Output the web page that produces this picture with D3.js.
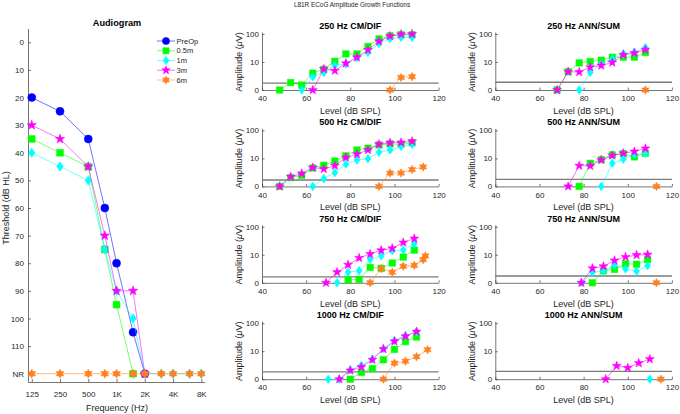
<!DOCTYPE html>
<html><head><meta charset="utf-8">
<script src="https://cdn.jsdelivr.net/npm/d3@7"></script>
<style>
body{margin:0;background:#fff}
svg{display:block}
text{font-family:"Liberation Sans",Arial,Helvetica,sans-serif}
</style>
</head><body>
<svg id="c" width="680" height="414"></svg>
<script>
// ---------------- DATA ----------------
const seriesNames  = ["PreOp","0.5m","1m","3m","6m"];
const seriesColors = ["#0000ff","#00ff00","#00ffff","#ff00ff","#ff8020"];

// Audiogram (threshold dB HL, 120 = NR)
const audFreqs  = [125,250,500,750,1000,1500,2000,3000,4000,6000,8000];
const audPreOp  = [20,25,35,60,80,105,120,null,null,null,null];
const aud05m    = [35,40,45,75,95,120,null,null,null,null,null];
const aud1m     = [40,45,50,75,90,100,120,120,120,120,120];
const aud3m     = [30,35,45,70,90,90,120,null,null,null,null];
const aud6m     = [120,120,120,120,120,120,120,120,120,120,120];
const audYTicks = [0,10,20,30,40,50,60,70,80,90,100,110,120];
const audXTicks = [125,250,500,1000,2000,4000,8000];
const audXLabels = ["125","250","500","1K","2K","4K","8K"];

// ECoG amplitude growth functions (µV; 0 = at floor)
const lev250cm = [48,53,58,63,68,73,78,83,88,93,98,103,108];
const cm250_05 = [0,1.85,1.5,4.0,5.5,10.6,19.4,19.4,36,67,86,95,94];
const cm250_1  = [null,null,0,3.0,4.2,7.6,8.6,14,22,45,68,76,76];
const cm250_3  = [null,null,null,0,5.6,4.9,9,14.7,27,55,84,98,100];
const cm250_6  = [null,null,null,null,null,null,null,null,null,null,0,2.8,3.0];

const lev250ann = [68,73,78,83,88,93,98,103,108];
const ann250_05 = [0,4.5,9.3,10.4,11.6,14.9,14.9,14.9,21.7];
const ann250_1  = [null,null,0,4.2,8.5,12.7,19.6,22.6,33];
const ann250_3  = [0,4.5,4.4,6.5,7.5,9.6,18.1,20.8,27.5];
const ann250_6  = [null,null,null,null,null,null,null,null,0];

const lev500cm = [48,53,58,63,68,73,78,83,88,93,98,103,108,113];
const cm500_05 = [0,2.05,2.5,4.55,5.7,8.1,12.3,20,23.2,30.4,33,32,36,null];
const cm500_1  = [null,null,null,0,1.89,3.1,6.2,8.8,9.8,16.6,20,26.6,31.3,null];
const cm500_3  = [0,2.2,2.9,4.7,4.2,5.5,10.7,14.1,20,32,36,37,41,null];
const cm500_6  = [null,null,null,null,null,null,null,null,null,0,3.0,3.0,4.0,4.95];

const lev500ann = [73,78,83,88,93,98,103,108,113];
const ann500_05 = [null,0,6.7,9.1,13.4,14.9,11.3,15.3,null];
const ann500_1  = [null,null,null,0,6.7,9.3,13.4,15.3,null];
const ann500_3  = [0,5.5,5.4,8.8,12.7,15.3,17.6,22.6,null];
const ann500_6  = [null,null,null,null,null,null,null,null,0];

const lev750cm = [69,74,79,84,89,94,99,104,109,113,114];
const cm750_05 = [null,null,1.28,1.32,3.55,3.3,5.1,8.3,14.7,null,null];
const cm750_1  = [null,0,2.4,2.7,6.9,9.1,14.1,14.9,24.6,null,null];
const cm750_3  = [0,2.4,4.4,7.7,10.7,14.5,17.1,27.5,38,null,null];
const cm750_6  = [null,null,null,null,0,3.2,2.4,3.9,4.2,6.7,9.1];

const lev750ann = [79,84,89,94,99,104,109,113];
const ann750_05 = [null,0,2.7,3.0,4.8,4.6,6.7,null];
const ann750_1  = [0,2.37,2.6,4.2,3.1,2.6,4.1,null];
const ann750_3  = [0,3.3,3.9,6.3,8.4,9.8,10.2,null];
const ann750_6  = [null,null,null,null,null,null,null,0];

const lev1000cm = [70,75,80,85,90,95,100,105,110,115];
const cm1000_05 = [null,null,0,1.74,2.4,4.95,11.6,22,32,null];
const cm1000_1  = [0,0,2.17,3.1,5.2,12.3,23.8,36,50,null];
const cm1000_3  = [null,0,2.05,2.7,4.95,11.9,22.6,34,50,null];
const cm1000_6  = [null,null,null,null,null,0,3.76,4.4,6.35,11.3];

const lev1000ann = [90,95,100,105,110,115];
const ann1000_05 = [null,null,null,null,null,null];
const ann1000_1  = [null,null,null,null,0,null];
const ann1000_3  = [0,3.0,2.55,3.76,5.2,null];
const ann1000_6  = [null,null,null,null,null,0];

const noiseFloors = [1.76,1.89,1.69,1.79,1.64,1.75,1.83,1.89];
const panelTitles = ["250 Hz CM/DIF","250 Hz ANN/SUM","500 Hz CM/DIF","500 Hz ANN/SUM",
                     "750 Hz CM/DIF","750 Hz ANN/SUM","1000 Hz CM/DIF","1000 Hz ANN/SUM"];
const levelTicks = [40,60,80,100,120];
const ampTicks = [1,10,100];
const ampTickLabels = ["0","10","100"];

// ---------------- MARKERS ----------------
const symCircle = {draw(ctx,s){const r=s/2;ctx.moveTo(r,0);ctx.arc(0,0,r,0,2*Math.PI);}};
const symSquare = {draw(ctx,s){const h=s/2;ctx.rect(-h,-h,s,s);}};
const symDiamond = {draw(ctx,s){const h=s/2*1.15,w=s/2*0.8;ctx.moveTo(0,-h);ctx.lineTo(w,0);ctx.lineTo(0,h);ctx.lineTo(-w,0);ctx.closePath();}};
function starType(n,ratio){return {draw(ctx,s){const R=s/2,r=R*ratio;for(let i=0;i<2*n;i++){const a=-Math.PI/2+i*Math.PI/n;const rr=i%2?r:R;const x=rr*Math.cos(a),y=rr*Math.sin(a);if(i)ctx.lineTo(x,y);else ctx.moveTo(x,y);}ctx.closePath();}};}
const symPenta = starType(5,0.40);
const symHexa = starType(6,0.55);
const seriesSymbols = [symCircle,symSquare,symDiamond,symPenta,symHexa];
const audSizes = [8,6.8,8.2,10,9];
const panelSizes = [7,6.5,7.5,9.5,8.5];

const svg = d3.select("#c");
const FONT = '"Liberation Sans",Arial,Helvetica,sans-serif';
const AX = "#3a3a3a";

function styleAxis(g, fs){
  g.attr("font-family",FONT).attr("font-size",fs);
  g.select(".domain").attr("stroke",AX).attr("stroke-width",0.7);
  g.selectAll(".tick line").attr("stroke",AX).attr("stroke-width",0.7);
  g.selectAll(".tick text").attr("fill","#262626");
}

function drawSeries(g, xs, ys, xScale, yScale, si, msize){
  const pts = xs.map((x,i)=>({x, v: ys[i]})).filter(d=>d.v!=null);
  if(!pts.length) return;
  const col = seriesColors[si];
  g.append("path").datum(pts)
    .attr("d", d3.line().x(d=>xScale(d.x)).y(d=>yScale(d.v)))
    .attr("fill","none").attr("stroke",col).attr("stroke-width",1).attr("stroke-opacity",0.55);
  g.selectAll(null).data(pts).enter().append("path")
    .attr("transform", d=>`translate(${xScale(d.x)},${yScale(d.v)})`)
    .attr("d", d3.symbol().type(seriesSymbols[si]).size(msize))
    .attr("fill",col).attr("stroke",col).attr("stroke-width",0.5);
}

// ---------------- AUDIOGRAM ----------------
{
  const x = d3.scaleLog().base(2).domain([114, 8650]).range([28, 204.5]);
  const y = d3.scaleLinear().domain([-5, 123]).range([28.5, 382]);
  const g = svg.append("g");
  const ya = g.append("g").attr("transform","translate(28,0)")
    .call(d3.axisLeft(y).tickValues(audYTicks).tickSizeInner(-3).tickSizeOuter(0).tickPadding(4)
      .tickFormat(d=>d===120?"NR":d));
  styleAxis(ya, 8);
  const xa = g.append("g").attr("transform","translate(0,382)")
    .call(d3.axisBottom(x).tickValues(audXTicks).tickSizeInner(-3).tickSizeOuter(0).tickPadding(9.5)
      .tickFormat((d,i)=>audXLabels[i]));
  styleAxis(xa, 8);
  const audSeries = [audPreOp,aud05m,aud1m,aud3m,aud6m];
  audSeries.forEach((s,i)=>drawSeries(g, audFreqs, s, x, y, i, audSizes[i]));
  g.append("text").attr("x",117).attr("y",25.5).attr("text-anchor","middle")
    .attr("font-size",9.2).attr("font-weight","bold").text("Audiogram");
  g.append("text").attr("transform","translate(8.5,208) rotate(-90)").attr("text-anchor","middle")
    .attr("font-size",9).attr("fill","#262626").text("Threshold (dB HL)");
  g.append("text").attr("x",117).attr("y",411).attr("text-anchor","middle")
    .attr("font-size",9).attr("fill","#262626").text("Frequency (Hz)");
  // legend
  const lg = g.append("g");
  seriesNames.forEach((n,i)=>{
    const yy = 41 + i*9.75;
    lg.append("line").attr("x1",157).attr("x2",175).attr("y1",yy).attr("y2",yy)
      .attr("stroke",seriesColors[i]).attr("stroke-opacity",0.55).attr("stroke-width",1);
    lg.append("path").attr("transform",`translate(166,${yy})`)
      .attr("d",d3.symbol().type(seriesSymbols[i]).size(audSizes[i]*0.9))
      .attr("fill",seriesColors[i]).attr("stroke",seriesColors[i]).attr("stroke-width",0.5);
    lg.append("text").attr("x",176.5).attr("y",yy+2.7).attr("font-size",7.5).attr("fill","#262626").text(n);
  });
}

// ---------------- GROWTH FUNCTION PANELS ----------------
svg.append("text").attr("x",352).attr("y",7.4).attr("text-anchor","middle")
  .attr("font-size",6.4).attr("fill","#262626").text("L81R ECoG Amplitude Growth Functions");

const panelLevels = [lev250cm,lev250ann,lev500cm,lev500ann,lev750cm,lev750ann,lev1000cm,lev1000ann];
const panelVals = [
  [cm250_05,cm250_1,cm250_3,cm250_6],[ann250_05,ann250_1,ann250_3,ann250_6],
  [cm500_05,cm500_1,cm500_3,cm500_6],[ann500_05,ann500_1,ann500_3,ann500_6],
  [cm750_05,cm750_1,cm750_3,cm750_6],[ann750_05,ann750_1,ann750_3,ann750_6],
  [cm1000_05,cm1000_1,cm1000_3,cm1000_6],[ann1000_05,ann1000_1,ann1000_3,ann1000_6]
];

panelTitles.forEach((title,p)=>{
  const col = p%2, row = Math.floor(p/2);
  const x0 = col ? 495.3 : 262, x1 = x0 + 176.6;
  const yb = 90 + row*96.4;
  const x = d3.scaleLinear().domain([40,120]).range([x0,x1]);
  const y = d3.scaleLog().domain([1,118]).range([yb, yb-58]).clamp(true);
  const g = svg.append("g");
  const xa = g.append("g").attr("transform",`translate(0,${yb})`)
    .call(d3.axisBottom(x).tickValues(levelTicks).tickSizeInner(-2.5).tickSizeOuter(0).tickPadding(5.5));
  styleAxis(xa, 8);
  const ya = g.append("g").attr("transform",`translate(${x0},0)`)
    .call(d3.axisLeft(y).tickValues(ampTicks).tickSizeInner(-2.5).tickSizeOuter(0).tickPadding(3)
      .tickFormat((d,i)=>ampTickLabels[i]));
  styleAxis(ya, 8);
  // noise floor
  g.append("line").attr("x1",x0).attr("x2",x1)
    .attr("y1",y(noiseFloors[p])).attr("y2",y(noiseFloors[p]))
    .attr("stroke","#7a7a7a").attr("stroke-width",1.3);
  panelVals[p].forEach((vals,k)=>drawSeries(g, panelLevels[p], vals, x, y, k+1, panelSizes[k+1]));
  g.append("text").attr("x",(x0+x1)/2).attr("y",yb-61).attr("text-anchor","middle")
    .attr("font-size",9).attr("font-weight","bold").text(title);
  g.append("text").attr("x",(x0+x1)/2).attr("y",yb+24).attr("text-anchor","middle")
    .attr("font-size",9).attr("fill","#262626").text("Level (dB SPL)");
  const yl = g.append("text").attr("transform",`translate(${x0-20.5},${yb-28}) rotate(-90)`)
    .attr("text-anchor","middle").attr("font-size",9).attr("fill","#262626");
  yl.append("tspan").text("Amplitude (");
  yl.append("tspan").attr("font-style","italic").text("\u03BC");
  yl.append("tspan").text("V)");
});
</script>
</body></html>
